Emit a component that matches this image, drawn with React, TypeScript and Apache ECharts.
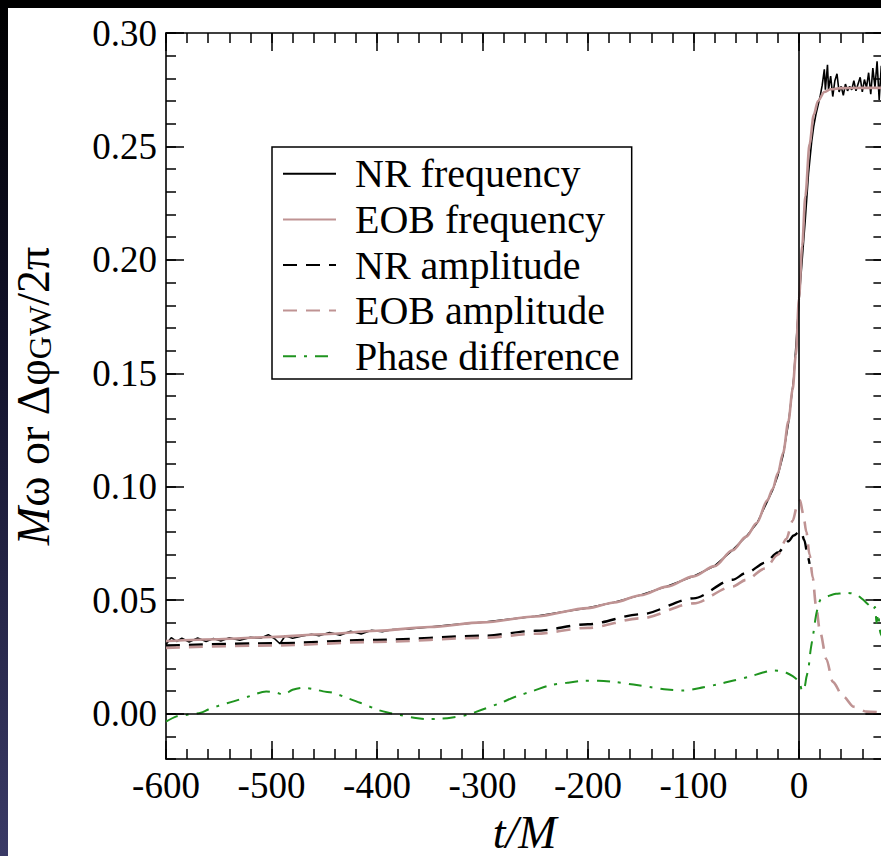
import React, { useEffect, useRef } from "react";
import * as echarts from "echarts";

// ---------- data ----------
const xMajorTicks = [-600, -500, -400, -300, -200, -100, 0];
const yMajorTicks = [0, 0.05, 0.1, 0.15, 0.2, 0.25, 0.3];

const nrFreqT = [-600, -595, -590, -585, -578, -570, -562, -555, -548, -540, -530, -520, -510, -503, -497, -492, -487, -480, -472, -462, -455, -445, -435, -425, -415, -405, -395, -385, -370, -350, -330, -300, -250, -200, -175, -150, -125, -100, -80, -63, -50, -40, -30, -25, -20, -15, -10, -5, 0, 3, 6, 9, 12, 14, 16, 18, 20, 22, 24, 25, 27, 28, 30, 32, 34, 36, 38, 40, 42, 44, 46, 48, 50, 52, 54, 56, 58, 60, 62, 64, 66, 68, 70, 72, 74, 76, 78, 80];
const nrFreqY = [0.0305, 0.0335, 0.0318, 0.0332, 0.0316, 0.0333, 0.0318, 0.0331, 0.032, 0.0334, 0.0323, 0.0336, 0.0333, 0.0348, 0.033, 0.0308, 0.0343, 0.0332, 0.0341, 0.035, 0.0343, 0.0358, 0.0346, 0.0363, 0.0351, 0.0367, 0.0361, 0.0371, 0.0373, 0.0382, 0.0391, 0.0403, 0.0429, 0.0466, 0.0491, 0.0523, 0.0561, 0.0606, 0.0651, 0.0721, 0.0781, 0.0838, 0.0935, 0.0985, 0.105, 0.114, 0.128, 0.148, 0.182, 0.2, 0.218, 0.238, 0.252, 0.259, 0.264, 0.268, 0.272, 0.277, 0.284, 0.275, 0.286, 0.275, 0.281, 0.272, 0.279, 0.282, 0.274, 0.2765, 0.2725, 0.2775, 0.2745, 0.2765, 0.275, 0.279, 0.2745, 0.2775, 0.2805, 0.274, 0.2795, 0.276, 0.2825, 0.273, 0.2845, 0.276, 0.2875, 0.2705, 0.2855, 0.276];

const eobFreqT = [-600, -550, -500, -450, -400, -350, -300, -250, -200, -175, -150, -125, -100, -80, -63, -50, -40, -30, -25, -20, -15, -10, -6, -3, 0, 3, 6, 10, 14, 18, 24, 30, 40, 60, 80];
const eobFreqY = [0.032, 0.0328, 0.0338, 0.035, 0.0365, 0.0382, 0.0402, 0.0428, 0.0465, 0.049, 0.0522, 0.056, 0.0605, 0.065, 0.072, 0.078, 0.084, 0.094, 0.099, 0.106, 0.115, 0.129, 0.143, 0.158, 0.183, 0.206, 0.228, 0.251, 0.264, 0.27, 0.274, 0.2752, 0.2757, 0.2758, 0.2758];

const nrAmpT = [-600, -500, -400, -300, -250, -200, -150, -100, -63, -50, -32, -20, -10, -5, 0, 2, 5, 8.5, 10];
const nrAmpY = [0.03, 0.031, 0.0325, 0.0343, 0.0365, 0.0394, 0.0438, 0.0508, 0.059, 0.062, 0.0665, 0.071, 0.076, 0.0785, 0.08, 0.0803, 0.0765, 0.069, 0.066];

const eobAmpT = [-600, -500, -400, -300, -250, -200, -150, -100, -63, -50, -32, -20, -12, -6, -2, 0, 1, 4, 7, 10, 13, 16, 20, 26, 32, 42, 52, 64, 80];
const eobAmpY = [0.029, 0.03, 0.0316, 0.0334, 0.0352, 0.0378, 0.042, 0.0486, 0.056, 0.059, 0.064, 0.07, 0.077, 0.085, 0.091, 0.093, 0.094, 0.088, 0.08, 0.07, 0.06, 0.048, 0.036, 0.024, 0.014, 0.0075, 0.003, 0.0009, 0.0004];

const phaseT = [-600, -590, -580, -567, -560, -550, -536, -520, -505, -495, -489, -480, -470, -460, -451, -442, -430, -416, -400, -390, -378, -365, -353, -340, -330, -315, -300, -283, -268, -252, -236, -220, -205, -190, -175, -157, -140, -125, -110, -95, -78, -62, -46, -35, -25, -18, -12, -6, -2, 1, 3, 5, 7, 9, 11, 13.5, 16, 18, 20, 23, 26, 30, 35, 40, 45, 50, 55, 60, 64, 68, 70, 72, 73.5, 75, 77, 80];
const phaseY = [-0.0035, -0.0012, -0.0005, 0.0004, 0.0018, 0.0035, 0.0054, 0.0078, 0.0098, 0.0092, 0.0084, 0.0105, 0.0114, 0.0108, 0.0098, 0.0092, 0.0072, 0.0048, 0.0018, 0.0005, -0.0006, -0.0018, -0.0024, -0.0022, -0.0018, -0.0006, 0.0018, 0.0047, 0.0076, 0.01, 0.0125, 0.0136, 0.0144, 0.0145, 0.014, 0.0128, 0.0116, 0.0106, 0.0102, 0.0112, 0.0128, 0.0146, 0.0164, 0.018, 0.019, 0.0188, 0.018, 0.0165, 0.015, 0.013, 0.01, 0.011, 0.016, 0.02, 0.028, 0.035, 0.043, 0.047, 0.05, 0.051, 0.0515, 0.0522, 0.0528, 0.053, 0.0532, 0.053, 0.0523, 0.0505, 0.0488, 0.047, 0.0458, 0.047, 0.04, 0.044, 0.036, 0.033];

const seriesNames = ["NR frequency", "EOB frequency", "NR amplitude", "EOB amplitude", "Phase difference"];

// ---------- styles ----------
const FONT = "'Liberation Serif', 'Times New Roman', serif";
const ROSY = "#bf9393";
const GREEN = "#1f941f";

const zip = (t: number[], y: number[]) => t.map((v, i) => [v, y[i]]);

export default function App() {
  const ref = useRef<HTMLDivElement>(null);

  useEffect(() => {
    if (!ref.current) return;
    const chart = echarts.init(ref.current, undefined, { renderer: "svg" });

    const lineCommon = { show: true, onZero: false, lineStyle: { color: "#000", width: 1.6 } };
    const tickStyle = { color: "#000", width: 1.5 };
    const X_MIN = -600, X_MAX = 80, Y_MIN = -0.02, Y_MAX = 0.3;

    const xAxes = [
      {
        type: "value", position: "bottom", min: X_MIN, max: X_MAX,
        axisLine: lineCommon,
        axisTick: { show: true, inside: true, length: 18, customValues: xMajorTicks, lineStyle: tickStyle },
        axisLabel: { show: true, customValues: xMajorTicks, margin: 8, fontFamily: FONT, fontSize: 37, color: "#000", formatter: (v: number) => String(v) },
        splitLine: { show: false },
        name: "t/M", nameLocation: "middle", nameGap: 50,
        nameTextStyle: { fontFamily: FONT, fontStyle: "italic", fontSize: 46, color: "#000" },
      },
      {
        type: "value", position: "bottom", min: X_MIN, max: X_MAX, interval: 20,
        axisLine: { show: false, onZero: false },
        axisTick: { show: true, inside: true, length: 10, lineStyle: tickStyle },
        axisLabel: { show: false }, splitLine: { show: false },
      },
      {
        type: "value", position: "top", min: X_MIN, max: X_MAX,
        axisLine: lineCommon,
        axisTick: { show: true, inside: true, length: 18, customValues: xMajorTicks, lineStyle: tickStyle },
        axisLabel: { show: false }, splitLine: { show: false },
      },
      {
        type: "value", position: "top", min: X_MIN, max: X_MAX, interval: 20,
        axisLine: { show: false, onZero: false },
        axisTick: { show: true, inside: true, length: 10, lineStyle: tickStyle },
        axisLabel: { show: false }, splitLine: { show: false },
      },
    ];

    const yAxes = [
      {
        type: "value", position: "left", min: Y_MIN, max: Y_MAX,
        axisLine: lineCommon,
        axisTick: { show: true, inside: true, length: 18, customValues: yMajorTicks, lineStyle: tickStyle },
        axisLabel: { show: true, customValues: yMajorTicks, margin: 9, fontFamily: FONT, fontSize: 37, color: "#000", formatter: (v: number) => v.toFixed(2) },
        splitLine: { show: false },
        name: "{i|M}{n|ω or Δφ}{s|GW}{n|/2π}",
        nameLocation: "middle", nameRotate: 90, nameGap: 110,
        nameTextStyle: {
          fontFamily: FONT, fontSize: 46, color: "#000",
          rich: {
            i: { fontFamily: FONT, fontSize: 46, fontStyle: "italic", color: "#000", lineHeight: 46 },
            n: { fontFamily: FONT, fontSize: 46, color: "#000", lineHeight: 46 },
            s: { fontFamily: FONT, fontSize: 32, color: "#000", lineHeight: 22, verticalAlign: "bottom" },
          },
        },
      },
      {
        type: "value", position: "left", min: Y_MIN, max: Y_MAX, interval: 0.01,
        axisLine: { show: false, onZero: false },
        axisTick: { show: true, inside: true, length: 10, lineStyle: tickStyle },
        axisLabel: { show: false }, splitLine: { show: false },
      },
      {
        type: "value", position: "right", min: Y_MIN, max: Y_MAX,
        axisLine: lineCommon,
        axisTick: { show: true, inside: true, length: 18, customValues: yMajorTicks, lineStyle: tickStyle },
        axisLabel: { show: false }, splitLine: { show: false },
      },
      {
        type: "value", position: "right", min: Y_MIN, max: Y_MAX, interval: 0.01,
        axisLine: { show: false, onZero: false },
        axisTick: { show: true, inside: true, length: 10, lineStyle: tickStyle },
        axisLabel: { show: false }, splitLine: { show: false },
      },
    ];

    chart.setOption({
      animation: false,
      backgroundColor: "transparent",
      grid: { left: 166, top: 33, width: 717.4, height: 726, containLabel: false, outerBoundsMode: "none" },
      xAxis: xAxes,
      yAxis: yAxes,
      legend: {
        data: seriesNames,
        orient: "vertical",
        left: 272, top: 147,
        itemWidth: 53, itemHeight: 14, itemGap: 0,
        padding: [4, 12, 0, 10],
        borderColor: "#000", borderWidth: 1.5,
        backgroundColor: "#fff",
        itemStyle: { opacity: 0 },
        textStyle: { fontFamily: FONT, fontSize: 40, color: "#000", lineHeight: 45.6, padding: [0, 0, 0, 14] },
        selectedMode: false,
      },
      series: [
        {
          name: seriesNames[0], type: "line", data: zip(nrFreqT, nrFreqY), symbol: "none",
          lineStyle: { color: "#000", width: 1.6 }, itemStyle: { color: "#000" },
          markLine: {
            silent: true, symbol: "none", label: { show: false },
            lineStyle: { color: "#000", width: 1.6, type: "solid" },
            data: [{ xAxis: 0 }, { yAxis: 0 }],
          },
        },
        {
          name: seriesNames[1], type: "line", data: zip(eobFreqT, eobFreqY), symbol: "none",
          smooth: 0.3, smoothMonotone: "x",
          lineStyle: { color: ROSY, width: 2.6 }, itemStyle: { color: ROSY },
        },
        {
          name: seriesNames[2], type: "line", data: zip(nrAmpT, nrAmpY), symbol: "none",
          smooth: 0.3, smoothMonotone: "x",
          lineStyle: { color: "#000", width: 2.4, type: [14, 9] }, itemStyle: { color: "#000" },
        },
        {
          name: seriesNames[3], type: "line", data: zip(eobAmpT, eobAmpY), symbol: "none",
          smooth: 0.3, smoothMonotone: "x",
          lineStyle: { color: ROSY, width: 2.6, type: [14, 9] }, itemStyle: { color: ROSY },
        },
        {
          name: seriesNames[4], type: "line", data: zip(phaseT, phaseY), symbol: "none",
          smooth: 0.3,
          lineStyle: { color: GREEN, width: 2, type: [13, 8, 3, 8] }, itemStyle: { color: GREEN },
        },
      ],
    });

    return () => chart.dispose();
  }, []);

  return (
    <div style={{ position: "absolute", left: 0, top: 0, width: 881, height: 856, overflow: "hidden", background: "#fff" }}>
      <div ref={ref} style={{ position: "absolute", left: 0, top: 0, width: 900, height: 856 }} />
      <div style={{ position: "absolute", left: 0, top: 0, width: 8, height: 856, background: "linear-gradient(to bottom, #000 0%, #12122a 40%, #3a3a66 100%)" }} />
      <div style={{ position: "absolute", left: 0, top: 0, width: 881, height: 8, background: "#000" }} />
    </div>
  );
}
